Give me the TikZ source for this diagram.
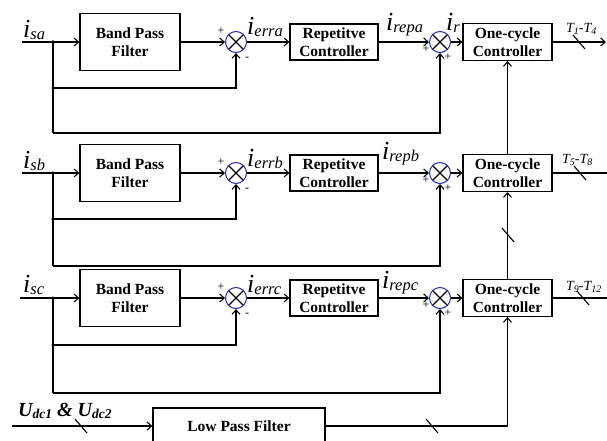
\documentclass[tikz,border=0pt]{standalone}
\usepackage{fontspec}
\setmainfont{Liberation Serif}
\usetikzlibrary{arrows.meta}
\definecolor{sumblue}{RGB}{40,40,170}
% current label: large italic i with a lowered italic subscript
\newcommand{\curlbl}[1]{{\fontsize{26}{26}\selectfont\itshape i}\raisebox{-2pt}{\fontsize{16.5}{16.5}\selectfont\itshape #1}}
\newcommand{\gatelbl}[2]{{\fontsize{14}{14}\selectfont\itshape T\raisebox{-2pt}{\fontsize{10}{10}\selectfont #1}-T\raisebox{-2pt}{\fontsize{10}{10}\selectfont #2}}}
\begin{document}
\begin{tikzpicture}[x=1pt,y=-1pt,
  wire/.style={line width=1.1pt},
  arr/.style={wire,-{Straight Barb[length=4.5pt,width=8pt,line width=1.1pt]}},
  blockbox/.style={draw,line width=1.2pt,inner sep=0pt,align=center,
    font=\fontsize{15.5}{18.5}\selectfont\bfseries},
  bpfbox/.style={blockbox,minimum width=100pt,minimum height=57pt},
  repbox/.style={blockbox,minimum width=88pt,minimum height=36pt},
  ocbox/.style={blockbox,minimum width=89pt,minimum height=37pt},
  sumnode/.style={circle,draw=sumblue,line width=1pt,minimum size=21pt,inner sep=0pt,
    path picture={\draw[black,line width=1.1pt]
      (path picture bounding box.north west) -- (path picture bounding box.south east)
      (path picture bounding box.north east) -- (path picture bounding box.south west);}},
  dot/.style={circle,fill=black,inner sep=0pt,minimum size=3.5pt},
  sign/.style={font=\fontsize{12}{12}\selectfont,inner sep=0pt},
  bus/.pic={\draw[wire] (-6,-7) -- (6,7);}
]
\useasboundingbox (0,0) rectangle (607,441);

% three identical phase channels: row y, inner and outer feedback y, input start x
\foreach \ph/\ry/\yin/\yout/\xst in {a/42/88/133/22, b/173/219/266/22, c/298/345/393/20}{
  \coordinate (in-\ph) at (\xst,\ry);
  \node[dot] (j1-\ph) at (53,\ry) {};
  \node[dot] (j2-\ph) at (53,\yin) {};
  \coordinate (lo-\ph) at (53,\yout);
  \node[bpfbox] (bpf-\ph) at (130,\ry) {Band Pass\\Filter};
  \node[sumnode] (s1-\ph) at (236,\ry) {};
  \node[repbox] (rep-\ph) at (334,\ry) {Repetitve\\Controller};
  \node[sumnode] (s2-\ph) at (440,\ry) {};
  \node[ocbox] (oc-\ph) at (507.5,\ry) {One-cycle\\Controller};
  \draw[arr] (in-\ph) -- (bpf-\ph.west);
  \draw[arr] (bpf-\ph.east) -- (s1-\ph.west);
  \draw[arr] (s1-\ph.east) -- (rep-\ph.west);
  \draw[arr] (rep-\ph.east) -- (s2-\ph.west);
  \draw[arr] (s2-\ph.east) -- (oc-\ph.west);
  \draw[wire] (j1-\ph.center) -- (lo-\ph);
  \draw[arr] (j2-\ph.center) -| (s1-\ph.south);
  \draw[arr] (lo-\ph) -| (s2-\ph.south);
  \node[sign] at (221,\ry-11) {+};
  \node[sign] at (247,\ry+17) {-};
  \node[sign] at (426,\ry+7) {+};
  \node[sign] at (448,\ry+15) {+};
}

% gate signal outputs
\coordinate (out-a) at (606,42);
\coordinate (out-b) at (607,173);
\coordinate (out-c) at (607,298);
\draw[arr] (oc-a.east) -- (out-a);
\draw[wire] (oc-b.east) -- (out-b);
\draw[wire] (oc-c.east) -- (out-c);
\pic at (579,42) {bus};
\pic at (580,173) {bus};
\pic at (583,298) {bus};
\node[anchor=base west,inner sep=0pt] at (566,33) {\gatelbl{1}{4}};
\node[anchor=base west,inner sep=0pt] at (562,163) {\gatelbl{5}{8}};
\node[anchor=base west,inner sep=0pt] at (566,290) {\gatelbl{9}{12}};

% dc-link voltages through the low pass filter
\coordinate (udc) at (12,426);
\node[blockbox,minimum width=172pt,minimum height=36pt] (lpf) at (239,426) {Low Pass Filter};
\draw[arr] (udc) -- (lpf.west);
\draw[arr] (lpf.east) -| (oc-c.south);
\draw[arr] (oc-c.north) -- (oc-b.south);
\draw[arr] (oc-b.north) -- (oc-a.south);
\pic at (81,426) {bus};
\pic at (432,426) {bus};
\pic at (508,235) {bus};

% signal labels
\node[anchor=base west,inner sep=0pt] at (23,38) {\curlbl{sa}};
\node[anchor=base west,inner sep=0pt] at (23,168) {\curlbl{sb}};
\node[anchor=base west,inner sep=0pt] at (23,292) {\curlbl{sc}};
\node[anchor=base west,inner sep=0pt] at (247,35) {\curlbl{erra}};
\node[anchor=base west,inner sep=0pt] at (247,166) {\curlbl{errb}};
\node[anchor=base west,inner sep=0pt] at (247,292) {\curlbl{errc}};
\node[anchor=base west,inner sep=0pt] at (386,31) {\curlbl{repa}};
\node[anchor=base west,inner sep=0pt] at (382,159) {\curlbl{repb}};
\node[anchor=base west,inner sep=0pt] at (382,288) {\curlbl{repc}};
\node[anchor=base west,inner sep=0pt] at (446,31) {\curlbl{r}};
\node[anchor=base west,inner sep=0pt] at (18,416)
  {\bfseries\itshape{\fontsize{20}{20}\selectfont U}\raisebox{-2pt}{\fontsize{13.5}{13.5}\selectfont dc1}{\fontsize{20}{20}\selectfont{} \& U}\raisebox{-2pt}{\fontsize{13.5}{13.5}\selectfont dc2}};
\end{tikzpicture}
\end{document}
